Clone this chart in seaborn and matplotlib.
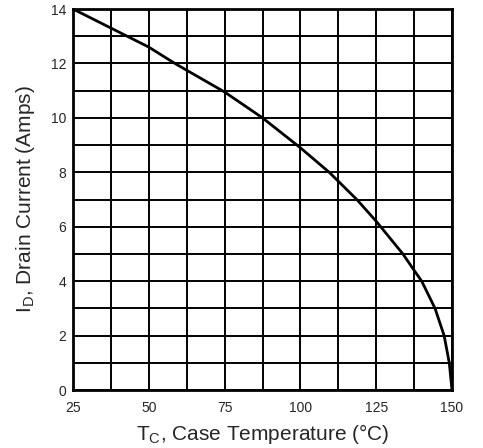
import numpy as np
import matplotlib
matplotlib.use("Agg")
import matplotlib.pyplot as plt
import seaborn as sns
from matplotlib.ticker import MultipleLocator

# values
case_temp = [25, 37.5, 50, 58.6, 75, 87.5, 100, 109.5, 118.6, 125,
             133.8, 137.8, 140, 144.4, 147.4, 149.1, 150]
drain_current = [14, 13.3, 12.6, 12, 10.95, 10, 8.9, 8, 7, 6.2,
                 5, 4.35, 4, 3, 2, 1, 0]

x_ticks = [25, 50, 75, 100, 125, 150]
y_ticks = [0, 2, 4, 6, 8, 10, 12, 14]

sns.set_theme(style="white")
plt.rcParams['font.family'] = ['Liberation Sans', 'DejaVu Sans']

fig = plt.figure(figsize=(4.83, 4.48), dpi=100)
ax = fig.add_axes([73 / 483, 1 - 390 / 448, 379 / 483, 381 / 448])

sns.lineplot(x=case_temp, y=drain_current, sort=False, color="black",
             linewidth=2, ax=ax, zorder=3)

ax.set_xlim(25, 150)
ax.set_ylim(0, 14)
ax.set_xticks(x_ticks)
ax.set_yticks(y_ticks)
ax.xaxis.set_minor_locator(MultipleLocator(12.5))
ax.yaxis.set_minor_locator(MultipleLocator(1))
ax.grid(which="both", color="black", linewidth=1.4)
ax.set_axisbelow(True)
ax.tick_params(which="both", length=0)
ax.tick_params(axis="x", pad=8, labelsize=10)
ax.tick_params(axis="y", pad=5, labelsize=10)
for s in ax.spines.values():
    s.set_color("black")
    s.set_linewidth(2)

ax.set_xlabel("T$_\\mathregular{C}$, Case Temperature (°C)", fontsize=15, labelpad=5)
ax.set_ylabel("I$_\\mathregular{D}$, Drain Current (Amps)", fontsize=15, labelpad=10)

plt.savefig("out.png", dpi=100)
